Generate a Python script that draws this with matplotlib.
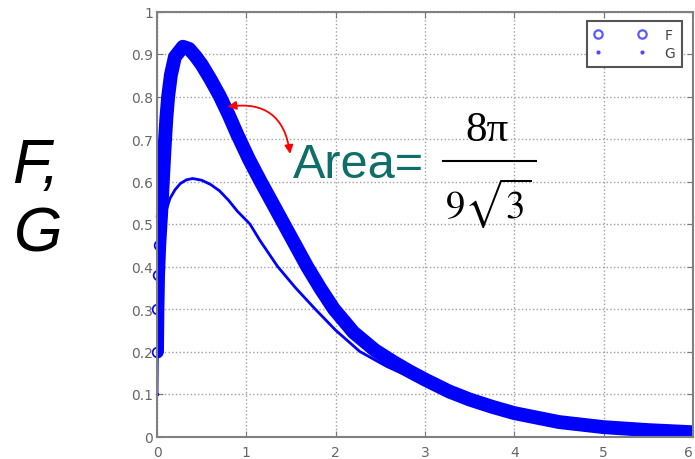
import matplotlib
matplotlib.use("Agg")
import matplotlib.pyplot as plt
from matplotlib.lines import Line2D

plt.rcParams["mathtext.fontset"] = "stix"

# values
f_t = [0.0, 0.005, 0.012, 0.025, 0.045, 0.065, 0.085, 0.105, 0.125, 0.155, 0.2,
       0.29, 0.36, 0.43, 0.5, 0.6, 0.7, 0.8, 0.9, 1.03, 1.16, 1.29, 1.42, 1.55,
       1.68, 1.83, 1.98, 2.2, 2.44, 2.65, 2.83, 3.0, 3.27, 3.5, 3.75, 4.0, 4.5,
       5.0, 5.5, 6.0]
f_val = [0.2, 0.3, 0.38, 0.45, 0.52, 0.6, 0.68, 0.75, 0.8, 0.85, 0.893, 0.917,
         0.912, 0.895, 0.875, 0.84, 0.802, 0.758, 0.71, 0.652, 0.6, 0.55, 0.5,
         0.45, 0.4, 0.348, 0.3, 0.245, 0.203, 0.175, 0.153, 0.134, 0.106, 0.087,
         0.07, 0.055, 0.034, 0.022, 0.015, 0.01]
g_t = [0.0, 0.004, 0.01, 0.02, 0.035, 0.06, 0.1, 0.145, 0.2, 0.26, 0.33, 0.4,
       0.5, 0.6, 0.7, 0.8, 0.9, 1.04, 1.15, 1.35, 1.55, 1.77, 2.0, 2.27, 2.57,
       2.83, 3.0, 3.5, 4.0, 4.5, 5.0, 5.5, 6.0]
g_val = [0.1, 0.2, 0.3, 0.38, 0.44, 0.49, 0.53, 0.56, 0.58, 0.595, 0.604, 0.607,
         0.603, 0.593, 0.578, 0.556, 0.53, 0.5, 0.462, 0.4, 0.35, 0.3, 0.25, 0.2,
         0.165, 0.14, 0.122, 0.08, 0.048, 0.03, 0.019, 0.013, 0.009]
x_ticks = [0, 1, 2, 3, 4, 5, 6]
x_labels = ["0", "1", "2", "3", "4", "5", "6"]
y_ticks = [0, 0.1, 0.2, 0.3, 0.4, 0.5, 0.6, 0.7, 0.8, 0.9, 1]
y_labels = ["0", "0.1", "0.2", "0.3", "0.4", "0.5", "0.6", "0.7", "0.8", "0.9", "1"]

W, H = 695, 460
fig = plt.figure(figsize=(W / 100, H / 100), dpi=100)
ax = fig.add_axes([157 / W, 1 - 437.5 / H, (693 - 157) / W, (437.5 - 12.5) / H])

ax.plot(f_t, f_val, color="blue", lw=10, solid_capstyle="round", solid_joinstyle="round")
ax.plot(f_t[:5], f_val[:5], "o", mfc="none", mec="blue", ms=7, mew=1.2, clip_on=False)
ax.plot(g_t, g_val, color="blue", lw=2)
ax.plot(g_t[:4], g_val[:4], ".", color="blue", ms=3, clip_on=False)

ax.set_xlim(0, 6)
ax.set_ylim(0, 1)
ax.set_xticks(x_ticks)
ax.set_xticklabels(x_labels)
ax.set_yticks(y_ticks)
ax.set_yticklabels(y_labels)
ax.tick_params(direction="in", length=4, color="#777777", labelcolor="#666666",
               labelsize=10, top=True, right=True)
ax.tick_params(axis="x", pad=6)
ax.tick_params(axis="y", pad=3)
ax.get_xticklabels()[-1].set_horizontalalignment("right")
ax.grid(True, ls=":", color="#a0a0a0", lw=1)
for s in ax.spines.values():
    s.set_color("#808080")
    s.set_linewidth(1.5)

handles = [
    Line2D([], [], ls="none", marker="o", mfc="none", mec="#5a5aff", ms=6, mew=1.6),
    Line2D([], [], ls="none", marker=".", color="#4a4aff", ms=4),
]
leg = ax.legend(handles, ["F", "G"], loc="upper right", bbox_to_anchor=(0.98, 0.978),
                borderaxespad=0, numpoints=2, handlelength=3.8, handletextpad=1.3,
                labelspacing=0.3, borderpad=0.5, fancybox=False, fontsize=10,
                framealpha=1, labelcolor="#444444")
leg.get_frame().set_edgecolor("#555555")
leg.get_frame().set_linewidth(1.5)

# red double-headed pointer from the F curve to the area label
ax.annotate("", xy=(0.79, 0.776), xytext=(1.49, 0.665),
            arrowprops=dict(arrowstyle="<|-|>,head_length=0.5,head_width=0.25",
                            color="red", lw=1.3, shrinkA=0, shrinkB=0,
                            connectionstyle="arc3,rad=0.5"))

fig.text(293 / W, 1 - 178 / H, "Area=", color="#0e6e6a", fontsize=35,
         family="Liberation Sans", va="baseline", ha="left")
fig.text(487 / W, 1 - 141 / H, "8π", fontsize=31, family="Liberation Serif",
         va="baseline", ha="center")
fig.text(488 / W, 1 - 218 / H, r"$\mathrm{9\sqrt{3}}$", fontsize=28,
         va="baseline", ha="center")
fig.add_artist(Line2D([443 / W, 536 / W], [1 - 162 / H] * 2, color="black", lw=1.5))

fig.text(12 / W, 1 - 183 / H, "F,", fontsize=45, style="italic",
         family="Liberation Sans", va="baseline", ha="left")
fig.text(14 / W, 1 - 252 / H, "G", fontsize=45, style="italic",
         family="Liberation Sans", va="baseline", ha="left")

fig.savefig("out.png", dpi=100)
